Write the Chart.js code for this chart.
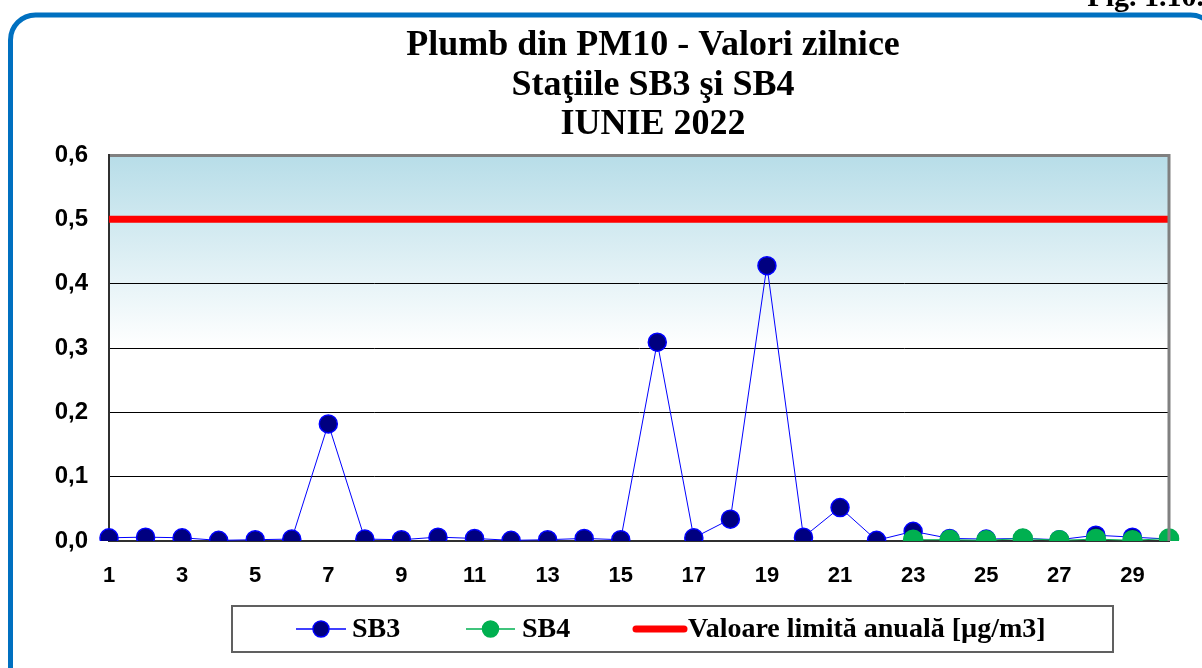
<!DOCTYPE html>
<html>
<head>
<meta charset="utf-8">
<title>Plumb din PM10 - Valori zilnice</title>
<script src="https://cdn.jsdelivr.net/npm/chart.js@4/dist/chart.umd.min.js"></script>
<style>
    html, body { margin: 0; padding: 0; background: #fff; }
    #chart-wrap { width: 1202px; height: 668px; position: relative; }
</style>
</head>
<body>
<div id="chart-wrap"><canvas id="line-chart" width="1202" height="668"></canvas></div>
<script>
'use strict';

var days = ["1", "2", "3", "4", "5", "6", "7", "8", "9", "10", "11", "12", "13", "14", "15",
    "16", "17", "18", "19", "20", "21", "22", "23", "24", "25", "26", "27", "28", "29", "30"];

var sb3Values = [0.005, 0.006, 0.005, 0.001, 0.002, 0.003, 0.182, 0.003, 0.002, 0.006,
    0.004, 0.001, 0.002, 0.004, 0.002, 0.309, 0.005, 0.034, 0.428, 0.006,
    0.052, 0.001, 0.015, 0.004, 0.003, 0.004, 0.002, 0.009, 0.006, 0.003];

var sb4Values = [null, null, null, null, null, null, null, null, null, null,
    null, null, null, null, null, null, null, null, null, null,
    null, null, 0.002, 0.002, 0.001, 0.004, 0.001, 0.003, 0.001, 0.004];

var limitValues = [0.5, 0.5, 0.5, 0.5, 0.5, 0.5, 0.5, 0.5, 0.5, 0.5,
    0.5, 0.5, 0.5, 0.5, 0.5, 0.5, 0.5, 0.5, 0.5, 0.5,
    0.5, 0.5, 0.5, 0.5, 0.5, 0.5, 0.5, 0.5, 0.5, 0.5];

var yTicks = [0, 0.1, 0.2, 0.3, 0.4, 0.5, 0.6];

var titleLines = ["Plumb din PM10 - Valori zilnice", "Staţiile SB3 şi SB4", "IUNIE 2022"];
var legendLabels = ["SB3", "SB4", "Valoare limită anuală [µg/m3]"];

var serif = '"Liberation Serif", "Times New Roman", serif';
var sans = '"Liberation Sans", Arial, sans-serif';

// frame, title, plot background and legend are drawn around the chart
var decorations = {
    id: 'decorations',
    beforeDraw: function(chart) {
        var ctx = chart.ctx;
        var area = chart.chartArea;
        ctx.save();

        ctx.strokeStyle = '#0070c0';
        ctx.lineWidth = 5;
        ctx.beginPath();
        ctx.roundRect(10.5, 15, 1205, 680, 25);
        ctx.stroke();

        ctx.fillStyle = '#000';
        ctx.font = 'bold 30px ' + serif;
        ctx.textAlign = 'right';
        ctx.textBaseline = 'alphabetic';
        ctx.fillText('Fig. 1.10.', 1204, 6);

        ctx.textAlign = 'center';
        ctx.textBaseline = 'middle';
        ctx.font = 'bold 36px ' + serif;
        titleLines.forEach(function(line, i) {
            ctx.fillText(line, 653, 46 + i * 39.5);
        });

        var grad = ctx.createLinearGradient(0, area.top, 0, area.bottom);
        grad.addColorStop(0, 'rgb(183,221,232)');
        grad.addColorStop(0.5, '#ffffff');
        grad.addColorStop(1, '#ffffff');
        ctx.fillStyle = grad;
        ctx.fillRect(area.left, area.top, area.right - area.left, area.bottom - area.top);
        ctx.restore();
    },
    afterDraw: function(chart) {
        var ctx = chart.ctx;
        var area = chart.chartArea;
        ctx.save();

        ctx.strokeStyle = '#808080';
        ctx.lineWidth = 3;
        ctx.beginPath();
        ctx.moveTo(area.right, area.top - 1);
        ctx.lineTo(area.right, area.bottom);
        ctx.stroke();

        // legend
        var top = 606, bottom = 652, mid = 629;
        ctx.strokeStyle = '#606060';
        ctx.lineWidth = 2;
        ctx.strokeRect(232, top, 1113 - 232, bottom - top);

        var items = [
            {x1: 296, x2: 346, color: '#0000ff', fill: '#000080', marker: true, textX: 352},
            {x1: 466, x2: 515, color: '#00b050', fill: '#00b050', marker: true, textX: 522},
            {x1: 636, x2: 684, color: '#ff0000', fill: null, marker: false, textX: 688}
        ];
        items.forEach(function(it, i) {
            ctx.strokeStyle = it.color;
            ctx.lineCap = it.marker ? 'butt' : 'round';
            ctx.lineWidth = it.marker ? 1.5 : 7;
            ctx.beginPath();
            ctx.moveTo(it.x1, mid);
            ctx.lineTo(it.x2, mid);
            ctx.stroke();
            if (it.marker) {
                ctx.fillStyle = it.fill;
                ctx.lineWidth = 1.5;
                ctx.beginPath();
                ctx.arc((it.x1 + it.x2) / 2, mid, 8, 0, Math.PI * 2);
                ctx.fill();
                ctx.stroke();
            }
            ctx.fillStyle = '#000';
            ctx.font = 'bold 28px ' + serif;
            ctx.textAlign = 'left';
            ctx.textBaseline = 'middle';
            ctx.fillText(legendLabels[i], it.textX, mid + 1);
        });
        ctx.restore();
    }
};

new Chart(document.getElementById("line-chart"), {
    type: 'line',
    data: {
        labels: days,
        datasets: [
            {
                label: legendLabels[0],
                data: sb3Values,
                borderColor: '#0000ff',
                borderWidth: 1,
                backgroundColor: '#000080',
                pointBackgroundColor: '#000080',
                pointBorderColor: '#0000ff',
                pointBorderWidth: 1.5,
                pointRadius: 9,
                tension: 0,
                order: 1
            },
            {
                label: legendLabels[1],
                data: sb4Values,
                borderColor: '#00b050',
                borderWidth: 1,
                backgroundColor: '#00b050',
                pointBackgroundColor: '#00b050',
                pointBorderColor: '#00b050',
                pointBorderWidth: 1.5,
                pointRadius: 9.5,
                tension: 0,
                order: 0
            },
            {
                label: legendLabels[2],
                data: limitValues,
                borderColor: '#ff0000',
                borderWidth: 7,
                pointRadius: 0,
                fill: false,
                order: 2
            }
        ]
    },
    options: {
        responsive: false,
        animation: false,
        layout: {
            padding: {left: 0, right: 33, top: 155, bottom: 77}
        },
        plugins: {
            legend: {display: false},
            title: {display: false},
            tooltip: {enabled: false}
        },
        scales: {
            x: {
                offset: false,
                grid: {display: false, drawTicks: false},
                border: {color: '#303030', width: 2},
                ticks: {
                    autoSkip: false,
                    maxRotation: 0,
                    padding: 22,
                    color: '#000',
                    font: {family: sans, size: 22, weight: 'bold'},
                    callback: function(value, index) {
                        return index % 2 === 0 ? days[index] : '';
                    }
                },
                afterFit: function(scale) { scale.height = 50; }
            },
            y: {
                min: yTicks[0],
                max: yTicks[yTicks.length - 1],
                afterBuildTicks: function(scale) {
                    scale.ticks = yTicks.map(function(v) { return {value: v}; });
                },
                grid: {
                    drawTicks: false,
                    color: function(ctx) {
                        return ctx.index === yTicks.length - 1 ? '#808080' : '#000';
                    },
                    lineWidth: function(ctx) {
                        return ctx.index === yTicks.length - 1 ? 3 : 1;
                    }
                },
                border: {color: '#303030', width: 2},
                ticks: {
                    padding: 21,
                    color: '#000',
                    font: {family: sans, size: 24, weight: 'bold'},
                    callback: function(value) {
                        return value.toFixed(1).replace('.', ',');
                    }
                },
                afterFit: function(scale) { scale.width = 109; }
            }
        }
    },
    plugins: [decorations]
});
</script>
</body>
</html>
